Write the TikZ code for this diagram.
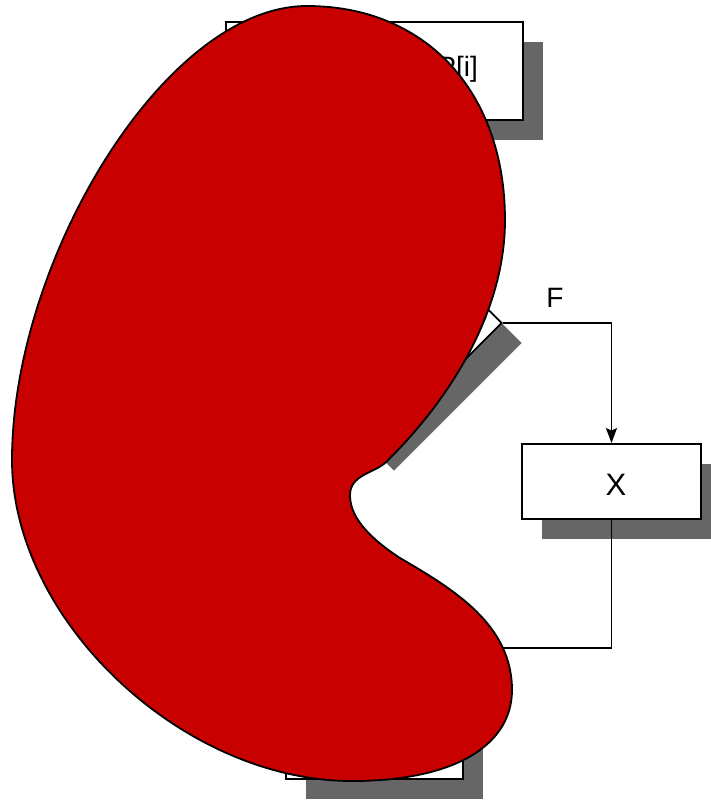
\documentclass[tikz,border=0pt]{standalone}
\usepackage{fontspec}
\setmainfont{Liberation Sans}
\usetikzlibrary{shapes.geometric,shadows,arrows.meta}

\definecolor{shadowgray}{RGB}{102,102,102}
\definecolor{blobred}{RGB}{201,0,0}

\tikzset{
  boxshadow/.style={drop shadow={shadow xshift=20pt,shadow yshift=-20pt,fill=shadowgray,opacity=1}},
  stepbox/.style={draw=black,line width=1.9pt,fill=white,rectangle,inner sep=0pt,boxshadow},
  decision/.style={draw=black,line width=1.9pt,fill=white,diamond,aspect=1,inner sep=0pt,boxshadow},
  flow/.style={draw=black,line width=1.8pt},
  flowarrow/.style={flow,-{Stealth[length=15pt,width=11pt,inset=2.5pt]}},
  lbl/.style={inner sep=0pt,font=\fontsize{28}{30}\selectfont}
}

\begin{document}
\begin{tikzpicture}[x=1pt,y=-1pt]
\useasboundingbox (0,0) rectangle (710,800);

% flowchart boxes
\node[stepbox,minimum width=297pt,minimum height=98pt] (readbox) at (374.5,71) {};
\node[lbl,anchor=base east] (readtext) at (478,77) {P[i]};
\node[decision,minimum width=256pt,minimum height=256pt] (test) at (374,323) {};
\node[stepbox,minimum width=179pt,minimum height=75pt] (xbox) at (611.5,481.5) {};
\node[lbl,anchor=base,font=\fontsize{31}{33}\selectfont] (xtext) at (616,495) {X};
\node[stepbox,minimum width=177pt,minimum height=73pt] (lowbox) at (374.5,742.5) {};
\coordinate (merge) at (374,648);

% connectors
\draw[flowarrow] (readbox.south) -- (test.north);
\draw[flowarrow] (test.east) -| (xbox.north);
\node[lbl,anchor=base] (ftext) at (555,307) {F};
\draw[flow] (xbox.south) |- (merge);
\draw[flowarrow] (merge) -- (lowbox.north);

% red kidney-shaped blob drawn over the chart
\draw[fill=blobred,draw=black,line width=1.8pt]
  (307,6)
  .. controls (426,6) and (505,92) .. (505,220)
  .. controls (505,320) and (440,410) .. (385,463)
  .. controls (374,473) and (350,475) .. (350,495)
  .. controls (350,515) and (365,535) .. (400,558)
  .. controls (455,590) and (512,625) .. (512,690)
  .. controls (512,745) and (455,781) .. (352,781)
  .. controls (182,781) and (12,620) .. (12,460)
  .. controls (12,260) and (165,6) .. (307,6)
  -- cycle;
\end{tikzpicture}
\end{document}
